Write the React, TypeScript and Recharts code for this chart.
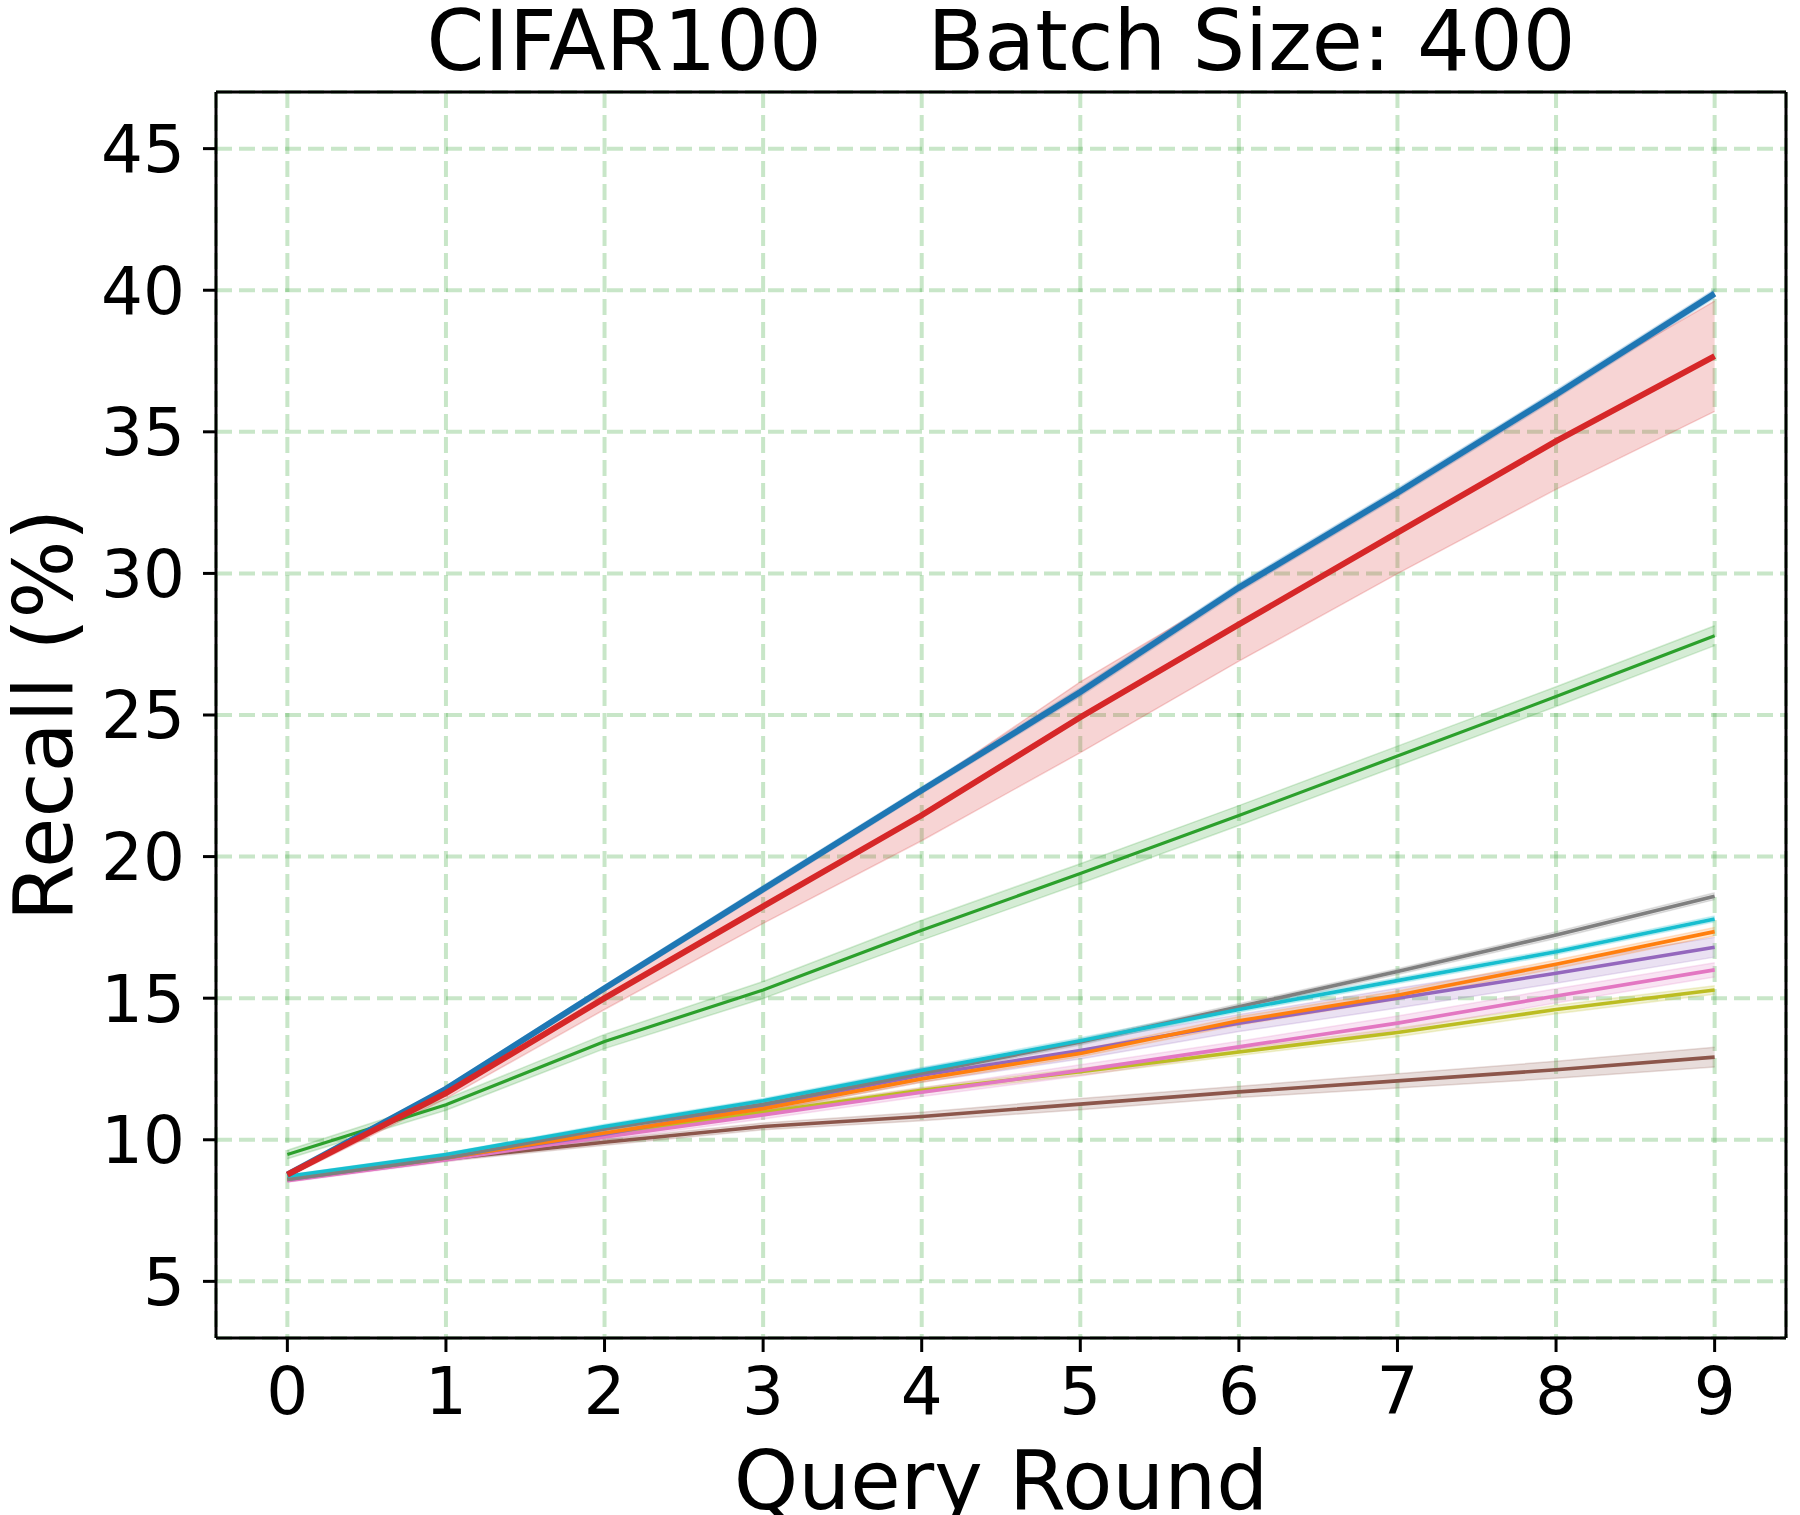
import {
  ComposedChart,
  Line,
  Area,
  XAxis,
  YAxis,
  CartesianGrid,
  ReferenceLine,
  Label,
} from "recharts"

// query rounds on the x axis
const rounds = [0, 1, 2, 3, 4, 5, 6, 7, 8, 9]
const xTicks = [0, 1, 2, 3, 4, 5, 6, 7, 8, 9]
const yTicks = [5, 10, 15, 20, 25, 30, 35, 40, 45]

// mean recall per method
const blue = [8.77, 11.8, 15.35, 18.85, 22.34, 25.81, 29.5, 32.85, 36.32, 39.88]
const red = [8.77, 11.65, 15.0, 18.24, 21.46, 24.92, 28.2, 31.44, 34.67, 37.67]
const green = [9.48, 11.24, 13.47, 15.29, 17.4, 19.4, 21.45, 23.55, 25.65, 27.8]
const gray = [8.6, 9.36, 10.38, 11.25, 12.35, 13.45, 14.7, 15.94, 17.23, 18.6]
const cyan = [8.71, 9.48, 10.47, 11.38, 12.45, 13.5, 14.6, 15.62, 16.64, 17.8]
const orange = [8.62, 9.36, 10.24, 11.1, 12.15, 13.05, 14.2, 15.1, 16.2, 17.35]
const purple = [8.6, 9.36, 10.2, 11.2, 12.28, 13.15, 14.12, 15.0, 15.88, 16.8]
const pink = [8.55, 9.3, 10.1, 10.88, 11.68, 12.45, 13.28, 14.12, 15.08, 16.0]
const olive = [8.62, 9.36, 10.18, 10.97, 11.75, 12.4, 13.1, 13.79, 14.6, 15.29]
const brown = [8.6, 9.32, 9.91, 10.47, 10.82, 11.26, 11.69, 12.08, 12.47, 12.92]

// half width of the shaded band
const blueStd = [0.05, 0.08, 0.1, 0.12, 0.12, 0.15, 0.15, 0.15, 0.15, 0.15]
const redStd = [0.1, 0.2, 0.4, 0.6, 0.9, 1.25, 1.3, 1.45, 1.7, 1.95]
const greenStd = [0.15, 0.2, 0.25, 0.3, 0.35, 0.35, 0.35, 0.35, 0.35, 0.35]
const grayStd = [0.05, 0.05, 0.08, 0.08, 0.1, 0.1, 0.1, 0.1, 0.12, 0.12]
const cyanStd = [0.05, 0.05, 0.08, 0.08, 0.1, 0.1, 0.1, 0.1, 0.1, 0.1]
const orangeStd = [0.05, 0.08, 0.1, 0.1, 0.12, 0.12, 0.15, 0.15, 0.15, 0.15]
const purpleStd = [0.05, 0.1, 0.15, 0.2, 0.25, 0.3, 0.3, 0.35, 0.35, 0.35]
const pinkStd = [0.05, 0.08, 0.1, 0.15, 0.15, 0.2, 0.2, 0.25, 0.25, 0.25]
const oliveStd = [0.05, 0.05, 0.08, 0.1, 0.1, 0.12, 0.12, 0.15, 0.15, 0.15]
const brownStd = [0.05, 0.08, 0.1, 0.12, 0.15, 0.2, 0.2, 0.25, 0.3, 0.35]

// drawing order: first = bottom
const series = [
  { key: "brown", mean: brown, std: brownStd, color: "#8c564b", width: 3.6 },
  { key: "olive", mean: olive, std: oliveStd, color: "#bcbd22", width: 3.6 },
  { key: "pink", mean: pink, std: pinkStd, color: "#e377c2", width: 3.6 },
  { key: "purple", mean: purple, std: purpleStd, color: "#9467bd", width: 3.6 },
  { key: "orange", mean: orange, std: orangeStd, color: "#ff7f0e", width: 3.6 },
  { key: "gray", mean: gray, std: grayStd, color: "#7f7f7f", width: 3.6 },
  { key: "cyan", mean: cyan, std: cyanStd, color: "#17becf", width: 3.6 },
  { key: "green", mean: green, std: greenStd, color: "#2ca02c", width: 3.2 },
  { key: "blue", mean: blue, std: blueStd, color: "#1f77b4", width: 6 },
  { key: "red", mean: red, std: redStd, color: "#d62728", width: 6 },
]

const data = rounds.map((r, i) => {
  const row: any = { round: r }
  series.forEach((s) => {
    row[s.key] = s.mean[i]
    row[s.key + "Band"] = [s.mean[i] - s.std[i], s.mean[i] + s.std[i]]
  })
  return row
})

const FONT = "DejaVu Sans"

function XTitles() {
  return (
    <g>
      <text
        x={1001}
        y={70}
        textAnchor="middle"
        fontFamily={FONT}
        fontSize={83}
        fill="#000"
        style={{ whiteSpace: "pre" }}
      >
        {"CIFAR100    Batch Size: 400"}
      </text>
      <text x={1001} y={1509} textAnchor="middle" fontFamily={FONT} fontSize={82} fill="#000">
        Query Round
      </text>
    </g>
  )
}

function YTitle() {
  return (
    <text
      x={72}
      y={715}
      transform="rotate(-90 72 715)"
      textAnchor="middle"
      fontFamily={FONT}
      fontSize={82}
      fill="#000"
    >
      Recall (%)
    </text>
  )
}

export default function App() {
  return (
    <div style={{ position: "fixed", left: 0, top: 0, width: 1800, height: 1515, background: "#fff" }}>
      <ComposedChart
        width={1800}
        height={1515}
        data={data}
        margin={{ top: 92, right: 14, bottom: 77, left: 96 }}
      >
        <XAxis
          dataKey="round"
          type="number"
          domain={[-0.45, 9.45]}
          ticks={xTicks}
          allowDataOverflow
          height={100}
          tickSize={14}
          tickMargin={15}
          axisLine={{ stroke: "#000", strokeWidth: 3 }}
          tickLine={{ stroke: "#000", strokeWidth: 3 }}
          tick={{ fill: "#000", fontSize: 66, fontFamily: FONT }}
        >
          <Label content={<XTitles />} />
        </XAxis>
        <YAxis
          type="number"
          domain={[3, 47]}
          ticks={yTicks}
          allowDataOverflow
          width={120}
          tickSize={13}
          tickMargin={18}
          axisLine={{ stroke: "#000", strokeWidth: 3 }}
          tickLine={{ stroke: "#000", strokeWidth: 3 }}
          tick={{ fill: "#000", fontSize: 66, fontFamily: FONT }}
        >
          <Label content={<YTitle />} />
        </YAxis>

        {series.map((s) => (
          <Area
            key={s.key + "Band"}
            type="linear"
            dataKey={s.key + "Band"}
            fill={s.color}
            fillOpacity={0.2}
            stroke={s.color}
            strokeOpacity={0.2}
            strokeWidth={1.5}
            dot={false}
            activeDot={false}
            isAnimationActive={false}
          />
        ))}
        {series.map((s) => (
          <Line
            key={s.key}
            type="linear"
            dataKey={s.key}
            stroke={s.color}
            strokeWidth={s.width}
            dot={false}
            activeDot={false}
            isAnimationActive={false}
          />
        ))}

        <CartesianGrid
          stroke="#2ca02c"
          strokeOpacity={0.26}
          strokeWidth={4}
          strokeDasharray="16 7"
        />
        <ReferenceLine y={47} stroke="#000" strokeWidth={3} />
        <ReferenceLine x={9.45} stroke="#000" strokeWidth={3} />
      </ComposedChart>
    </div>
  )
}
